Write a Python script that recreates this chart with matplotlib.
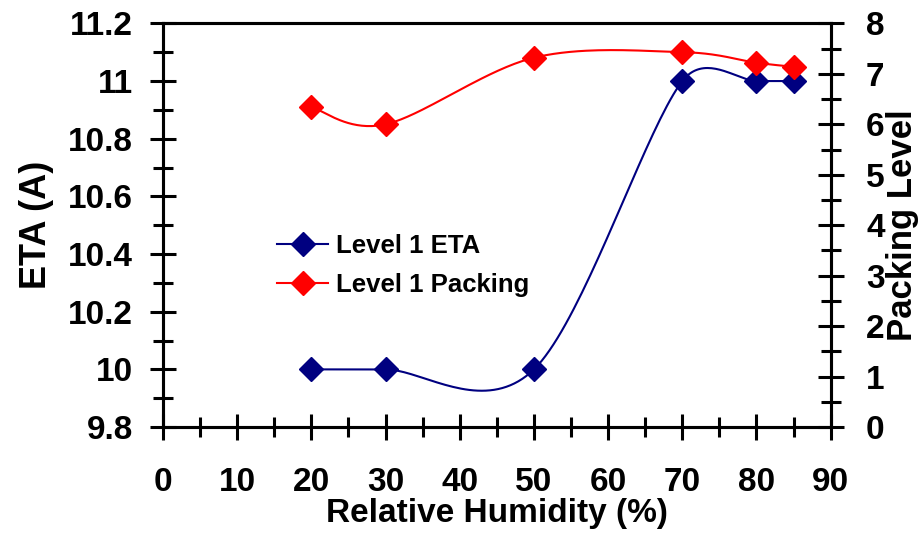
import numpy as np
import matplotlib
matplotlib.use("Agg")
import matplotlib.pyplot as plt
from matplotlib.ticker import MultipleLocator

humidity = [20, 30, 50, 70, 80, 85]
eta = [10.0, 10.0, 10.0, 11.0, 11.0, 11.0]
packing = [6.34, 6.0, 7.32, 7.43, 7.22, 7.14]
eta_ticks = [9.8, 10.0, 10.2, 10.4, 10.6, 10.8, 11.0, 11.2]
eta_labels = ["9.8", "10", "10.2", "10.4", "10.6", "10.8", "11", "11.2"]

BLUE = "#000080"
RED = "#ff0000"

plt.rcParams["font.family"] = ["Liberation Sans", "DejaVu Sans"]
plt.rcParams["font.weight"] = "bold"


def smooth(a, xs, ys, n=40):
    # Excel-like smoothed line, worked out in pixel space: cubic Bezier with
    # Catmull-Rom handles, each handle capped at half its segment length
    p = a.transData.transform(np.column_stack([xs, ys]).astype(float))
    out = [p[0]]
    for i in range(len(p) - 1):
        prev = p[i - 1] if i > 0 else p[i]
        nxt = p[i + 2] if i + 2 < len(p) else p[i + 1]
        seg_len = np.hypot(*(p[i + 1] - p[i]))
        h1 = (p[i + 1] - prev) / 6
        h2 = (nxt - p[i]) / 6
        for h in (h1, h2):
            ln = np.hypot(*h)
            if ln > 0.5 * seg_len:
                h *= 0.5 * seg_len / ln
        c1 = p[i] + h1
        c2 = p[i + 1] - h2
        t = np.linspace(0, 1, n)[1:, None]
        seg = ((1 - t) ** 3) * p[i] + 3 * ((1 - t) ** 2) * t * c1 \
            + 3 * (1 - t) * t ** 2 * c2 + t ** 3 * p[i + 1]
        out.extend(seg)
    out = a.transData.inverted().transform(np.array(out))
    return out[:, 0], out[:, 1]


fig = plt.figure(figsize=(9.24, 5.44), dpi=100)
ax = fig.add_axes([0.1764, 0.215, 0.7226, 0.742])
ax2 = ax.twinx()

ax.set_xlim(0, 90)
ax.set_ylim(9.8, 11.2)
ax2.set_ylim(0, 8)

sx, sy = smooth(ax, humidity, eta)
ax.plot(sx, sy, color=BLUE, lw=1.5)
ax.plot(humidity, eta, ls="none", marker="D", ms=12, color=BLUE, mec=BLUE)
sx, sy = smooth(ax2, humidity, packing)
ax2.plot(sx, sy, color=RED, lw=1.5)
ax2.plot(humidity, packing, ls="none", marker="D", ms=12, color=RED, mec=RED)

ax.xaxis.set_major_locator(MultipleLocator(10))
ax.xaxis.set_minor_locator(MultipleLocator(5))
ax.yaxis.set_minor_locator(MultipleLocator(0.1))
ax.set_yticks(eta_ticks)
ax.set_yticklabels(eta_labels)
ax2.yaxis.set_major_locator(MultipleLocator(1))
ax2.yaxis.set_minor_locator(MultipleLocator(0.5))

for a in (ax, ax2):
    for s in a.spines.values():
        s.set_linewidth(2.2)
    a.tick_params(which="major", direction="inout", length=19, width=2.2,
                  labelsize=24)
    a.tick_params(which="minor", direction="inout", length=14, width=2.2)
ax.tick_params(axis="y", which="both", right=False)
ax.tick_params(axis="y", pad=12)
ax.tick_params(axis="x", which="both", top=False, pad=19)
ax2.tick_params(axis="y", pad=16)

ax.set_xlabel("Relative Humidity (%)", fontsize=24, fontweight="bold", labelpad=0)
ax.set_ylabel("ETA (A)", fontsize=26, fontweight="bold", labelpad=10)
ax2.set_ylabel("Packing Level", fontsize=25, fontweight="bold", labelpad=1)

h1, = ax.plot([], [], color=BLUE, lw=1.5, marker="D", ms=12, label="Level 1 ETA")
h2, = ax.plot([], [], color=RED, lw=1.5, marker="D", ms=12, label="Level 1 Packing")
fig.legend(handles=[h1, h2], loc="center left", bbox_to_anchor=(0.2746, 0.512),
           frameon=False, prop={"size": 18.5, "weight": "bold"},
           handlelength=2.0, handletextpad=0.3, labelspacing=0.57)

fig.savefig("out.png", dpi=100)
